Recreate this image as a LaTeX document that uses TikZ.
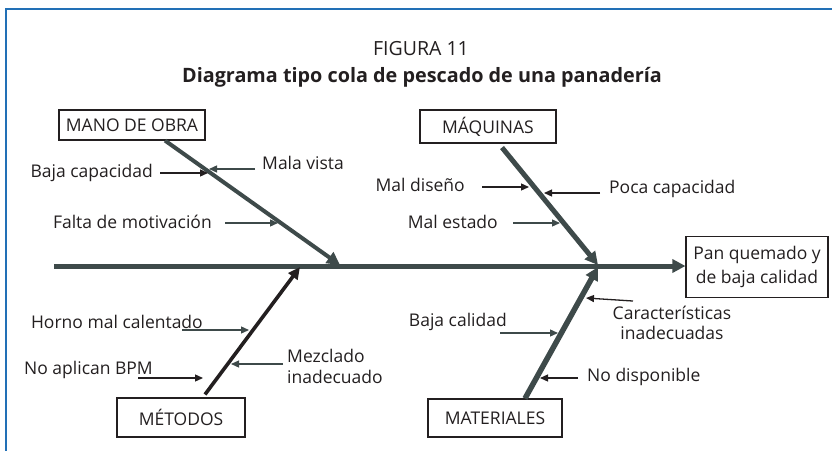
\documentclass[tikz,border=0pt]{standalone}
\usepackage{fontspec}
\setmainfont{Open Sans}
\usetikzlibrary{arrows.meta}
\definecolor{slate}{RGB}{62,74,74}
\definecolor{ink}{RGB}{35,31,32}
\definecolor{frameblue}{RGB}{34,112,182}

\begin{document}
\begin{tikzpicture}[x=1pt,y=-1pt,text=ink,
  lbl/.style={inner sep=0pt,font=\fontsize{17.5}{20}\selectfont},
  cbox/.style={draw=ink,line width=1.1pt,inner sep=0pt,font=\fontsize{17.5}{20}\selectfont},
  bone/.style={draw=slate,line width=5pt,-{Triangle[length=13pt,width=13pt]}},
  cause/.style={line width=1.3pt,-{Triangle[length=8pt,width=7pt]}},
  gcause/.style={cause,color=slate},
  kcause/.style={cause,color=ink}]
\useasboundingbox (0,0) rectangle (832,450);
\draw[frameblue,line width=2pt] (6,455) -- (6,9) -- (840,9);

% titulo
\node[font=\fontsize{19.5}{22}\selectfont] (fig) at (421,48.5) {FIGURA 11};
\node[font=\bfseries\fontsize{19.8}{22}\selectfont] (tit) at (422,77) {Diagrama tipo cola de pescado de una panadería};

% categorias y efecto
\node[cbox,minimum width=146pt,minimum height=30pt] (mano) at (132,125) {MANO DE OBRA};
\node[cbox,minimum width=136pt,minimum height=33pt] (maq) at (488,126.5) {MÁQUINAS};
\node[cbox,minimum width=128pt,minimum height=39pt] (met) at (181,417.5) {MÉTODOS};
\node[cbox,minimum width=134pt,minimum height=38pt] (mat) at (495,418) {MATERIALES};
\node[cbox,minimum width=142pt,minimum height=61pt,align=center,font=\fontsize{17.5}{24}\selectfont] (pan) at (757,267) {Pan quemado y\\de baja calidad};

% causas
\node[lbl,anchor=east] (bc) at (153,173) {Baja capacidad};
\node[lbl,anchor=west] (mv) at (262,163) {Mala vista};
\node[lbl,anchor=east] (fm) at (212,222) {Falta de motivación};
\node[lbl,anchor=east] (md) at (465,185) {Mal diseño};
\node[lbl,anchor=west] (pc) at (609,189) {Poca capacidad};
\node[lbl,anchor=east] (me) at (498,222) {Mal estado};
\node[lbl,anchor=east] (hm) at (203,322) {Horno mal calentado};
\node[lbl,anchor=east] (na) at (153,370) {No aplican BPM};
\node[lbl,anchor=west,align=left,font=\fontsize{17.5}{21}\selectfont] (mz) at (287,366.5) {Mezclado\\inadecuado};
\node[lbl,align=center,font=\fontsize{17.5}{20}\selectfont] (ci) at (672,323) {Características\\inadecuadas};
\node[lbl,anchor=east] (bq) at (507,322) {Baja calidad};
\node[lbl,anchor=west] (nd) at (587,377) {No disponible};

% espina y huesos
\coordinate (s0) at (54,266);
\coordinate (h1) at (340,265);
\coordinate (h2) at (598,265);
\coordinate (h3) at (300,267);
\coordinate (h4) at (598,267);
\draw[bone] (s0) -- (s0 -| pan.west);
\draw[bone,line width=4pt] ([xshift=33pt]mano.south) -- (h1);
\draw[bone] ([xshift=14pt,yshift=-4pt]maq.south) -- (h2);
\draw[bone,draw=ink,line width=3.6pt,-{Triangle[length=12pt,width=11pt]}] ([xshift=24pt,yshift=3pt]met.north) -- (h3);
\draw[bone,line width=5.5pt] ([xshift=30pt]mat.north) -- (h4);

% puntas sobre los huesos
\coordinate (t-bc) at (208,173);
\coordinate (t-mv) at (209,169);
\coordinate (t-fm) at (278,223);
\coordinate (t-md) at (529,187);
\coordinate (t-pc) at (544,193);
\coordinate (t-me) at (560,223);
\coordinate (t-hm) at (249,330);
\coordinate (t-na) at (203,378);
\coordinate (t-mz) at (231,364);
\coordinate (t-ci) at (586,298);
\coordinate (t-bq) at (558,333);
\coordinate (t-nd) at (540,378);

\path[kcause]
([xshift=7pt]bc.east) edge (t-bc)
([xshift=17pt,yshift=-2pt]md.east) edge (t-md)
([xshift=-9pt,yshift=-4pt]pc.west) edge (t-pc)
([xshift=-15pt,yshift=-8pt]na.east) edge (t-na)
([xshift=-39pt,yshift=5pt]ci.north) edge (t-ci)
([xshift=-9pt,yshift=-1pt]nd.west) edge (t-nd);
\path[gcause]
([xshift=-7pt,yshift=-6pt]mv.west) edge (t-mv)
([xshift=13pt,yshift=-1pt]fm.east) edge (t-fm)
([xshift=15pt,yshift=-1pt]me.east) edge (t-me)
([xshift=-21pt,yshift=-8pt]hm.east) edge (t-hm)
([xshift=-4pt,yshift=2.5pt]mz.west) edge (t-mz)
([xshift=-7pt,yshift=-11pt]bq.east) edge (t-bq);
\end{tikzpicture}
\end{document}
